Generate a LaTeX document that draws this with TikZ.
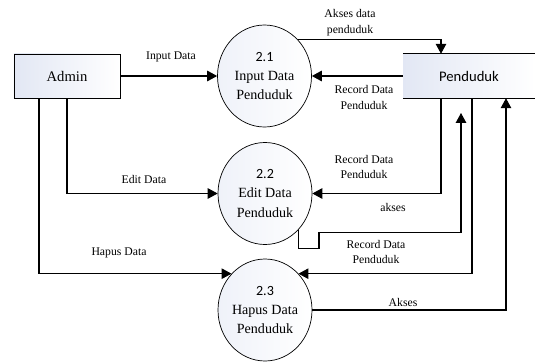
\documentclass[tikz,border=0pt]{standalone}
\usepackage{fontspec}
\setmainfont{Liberation Serif}
\newfontfamily\calibri{Carlito}
\usetikzlibrary{arrows.meta,shapes.geometric}
\definecolor{isian}{RGB}{226,231,244}
\begin{document}
\begin{tikzpicture}[x=.03cm,y=-.03cm,
		flow/.style={line width=.9pt,-{Triangle[length=8.5pt,width=9pt]}},
		lbl/.style={font=\fontsize{10}{13.4}\selectfont,align=center,inner sep=0pt},
		entitas/.style={draw,line width=.7pt,minimum width=3.18cm,minimum height=1.32cm,left color=isian,right color=white,font=\fontsize{12.5}{15}\selectfont},
		simpan/.style={minimum width=3.96cm,minimum height=1.32cm,left color=isian,right color=white,font=\calibri\fontsize{12.5}{15}\selectfont},
		proses/.style={ellipse,draw,line width=.6pt,minimum width=2.82cm,minimum height=3.06cm,inner sep=0pt,align=center,left color=isian!55,right color=white,font=\fontsize{12}{16.6}\selectfont}]
			\useasboundingbox (0,0) rectangle (535,363);
			\node[entitas] (admin) at (67,76) {Admin};
			\node[simpan] (store) at (469,76) {Penduduk};
			\draw[line width=.9pt] (store.north west)--(store.north east) (store.south west)--(store.south east);
			\node[proses] (p1) at (264.5,76) {{\calibri 2.1}\\Input Data\\Penduduk};
			\node[proses] (p2) at (265,193.5) {{\calibri 2.2}\\Edit Data\\Penduduk};
			\node[proses] (p3) at (265,310) {{\calibri 2.3}\\Hapus Data\\Penduduk};
			\foreach \n/\x in {a/39,b/67,c/441,d/461,e/472,f/506}
			\coordinate (k\n) at (\x,0);
			\coordinate (akses2) at (461,113);
			\draw[flow] (admin)--(p1);
			\draw[flow] (p1.47) -| (store.north -| kc);
			\draw[flow] (store)--(p1);
			\draw[flow] (store.south -| kc) |- (p2);
			\draw[flow] (p2.south east) |- (319,248.5) |- (461,232.5)--(akses2);
			\draw[flow] (store.south -| ke) |- (p3.north east);
			\draw[flow] (p3) -| (store.south -| kf);
			\draw[flow] (admin.south -| kb) |- (p2);
			\draw[flow] (admin.south -| ka) |- (p3.north west);
			\node[lbl] (t1) at (171,57) {Input Data};
			\node[lbl] (t2) at (350,22.5) {Akses data\\penduduk};
			\node[lbl] (t3) at (364,97.5) {Record Data\\Penduduk};
			\node[lbl] (t4) at (364,167) {Record Data\\Penduduk};
			\node[lbl] (t5) at (144,179) {Edit Data};
			\node[lbl] (t6) at (393,207.7) {akses};
			\node[lbl] (t7) at (376,252) {Record Data\\Penduduk};
			\node[lbl] (t8) at (119,252.7) {Hapus Data};
			\node[lbl] (t9) at (403,302.7) {Akses};
		\end{tikzpicture}
\end{document}
